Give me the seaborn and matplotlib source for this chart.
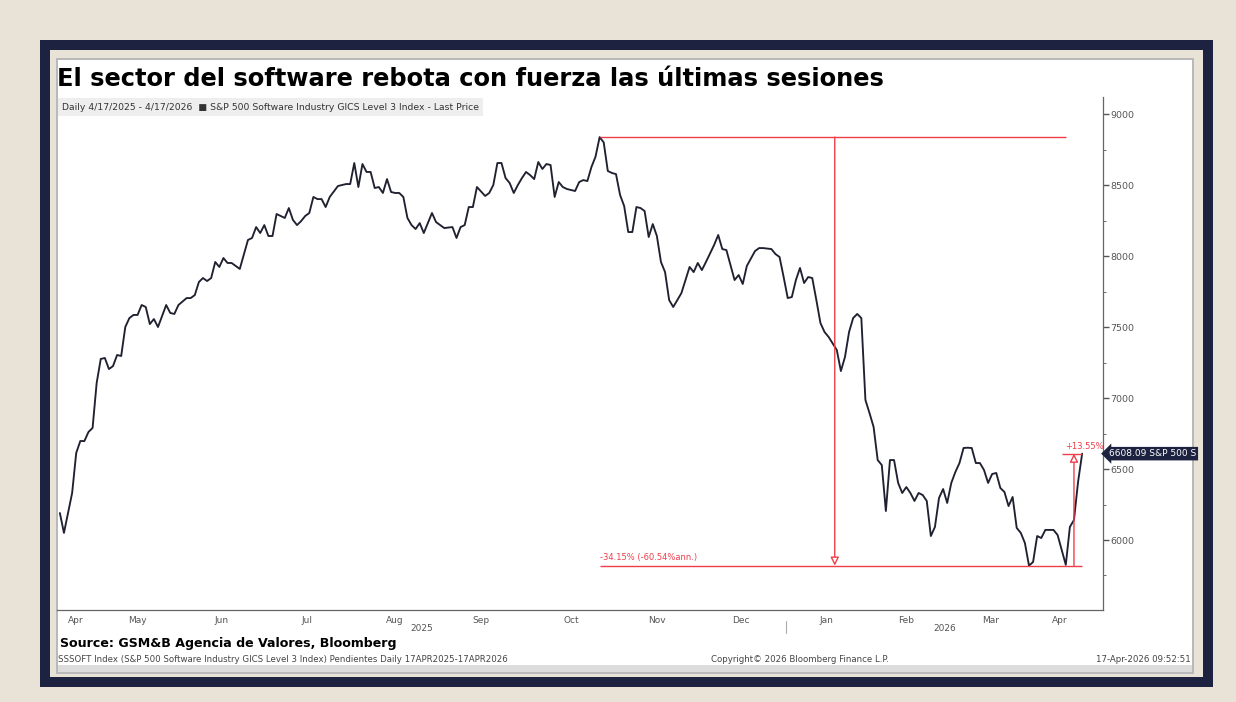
import numpy as np
import pandas as pd
import matplotlib
matplotlib.use("Agg")
import matplotlib.pyplot as plt
from matplotlib.patches import Rectangle
import seaborn as sns

# S&P 500 Software Industry GICS Level 3 index, daily last price
# session = trading-day number counted from 17-Apr-2025
session = [0, 1, 3, 4, 5, 6, 7, 8, 9, 10, 11, 12, 13, 14, 15, 16, 17, 18, 19, 20,
           21, 22, 23, 24, 26, 27, 28, 29, 31, 32, 33, 34, 35, 36, 37, 38, 39, 40, 41, 42,
           44, 46, 47, 48, 49, 50, 51, 52, 53, 54, 55, 56, 57, 58, 59, 60, 61, 62, 63, 64,
           65, 66, 68, 69, 70, 71, 72, 73, 74, 75, 76, 77, 78, 79, 80, 81, 82, 83, 84, 85,
           86, 87, 88, 89, 91, 92, 93, 94, 96, 97, 98, 99, 100, 101, 102, 104, 105, 106, 107, 108,
           109, 110, 111, 112, 113, 114, 115, 116, 117, 118, 119, 120, 121, 122, 123, 124, 126, 127, 128, 129,
           130, 131, 132, 133, 134, 135, 136, 137, 138, 139, 140, 141, 142, 143, 144, 145, 146, 147, 148, 149,
           150, 152, 153, 154, 155, 156, 157, 158, 160, 161, 162, 163, 164, 165, 166, 167, 168, 170, 171, 172,
           174, 175, 176, 177, 178, 179, 180, 181, 182, 183, 184, 185, 186, 187, 188, 190, 191, 192, 193, 194,
           195, 196, 197, 198, 199, 200, 201, 202, 203, 204, 205, 206, 207, 208, 209, 210, 211, 212, 213, 214,
           215, 216, 217, 218, 219, 220, 221, 222, 223, 224, 225, 226, 227, 228, 229, 230, 231, 232, 233, 234,
           235, 236, 237, 238, 239, 240, 241, 243, 244, 246, 247, 248, 249, 250]
price = [6190, 6050, 6331, 6613, 6697, 6697, 6761, 6789, 7106, 7275, 7282, 7204, 7225, 7303, 7296, 7500, 7563, 7585, 7585, 7655,
         7641, 7521, 7556, 7500, 7655, 7599, 7592, 7655, 7704, 7704, 7725, 7817, 7845, 7824, 7845, 7958, 7923, 7986, 7951, 7951,
         7909, 8113, 8127, 8204, 8162, 8218, 8141, 8141, 8296, 8282, 8268, 8338, 8254, 8218, 8246, 8282, 8303, 8416, 8401, 8401,
         8345, 8416, 8493, 8500, 8507, 8507, 8655, 8486, 8648, 8592, 8592, 8479, 8486, 8444, 8542, 8451, 8444, 8444, 8416, 8268,
         8218, 8190, 8232, 8162, 8303, 8239, 8218, 8197, 8204, 8127, 8204, 8218, 8345, 8345, 8486, 8423, 8444, 8500, 8655, 8655,
         8549, 8514, 8444, 8500, 8549, 8592, 8570, 8542, 8662, 8613, 8648, 8641, 8416, 8521, 8486, 8472, 8458, 8521, 8535, 8528,
         8627, 8700, 8837.5, 8800, 8599, 8585, 8577, 8430, 8352, 8169, 8169, 8345, 8338, 8317, 8134, 8225, 8141, 7958, 7887, 7690,
         7641, 7739, 7831, 7923, 7887, 7951, 7901, 7958, 8078, 8148, 8049, 8042, 7937, 7831, 7866, 7803, 7930, 8035, 8056, 8056,
         8049, 8014, 7993, 7852, 7704, 7711, 7831, 7916, 7810, 7852, 7845, 7690, 7528, 7465, 7430, 7338, 7190, 7289, 7465, 7563,
         7592, 7563, 6986, 6894, 6796, 6563, 6528, 6204, 6563, 6563, 6402, 6331, 6373, 6331, 6275, 6331, 6317, 6275, 6028, 6092,
         6296, 6359, 6261, 6402, 6479, 6542, 6648, 6650, 6648, 6542, 6542, 6493, 6402, 6465, 6472, 6366, 6338, 6239, 6303, 6085,
         6050, 5979, 5819.5, 5845, 6028, 6014, 6071, 6071, 6035, 5825, 6092, 6141, 6409, 6608.09]

start_date = "2025-04-17"
month_starts = ["2025-05-01", "2025-06-01", "2025-07-01", "2025-08-01", "2025-09-01", "2025-10-01",
                "2025-11-01", "2025-12-01", "2026-01-01", "2026-02-01", "2026-03-01", "2026-04-01"]
month_labels = ["Apr", "May", "Jun", "Jul", "Aug", "Sep", "Oct", "Nov", "Dec", "Jan", "Feb", "Mar", "Apr"]
holidays = ["2025-04-18", "2025-05-26", "2025-06-19", "2025-07-04", "2025-09-01", "2025-11-27",
            "2025-12-25", "2026-01-01", "2026-01-19", "2026-02-16", "2026-04-03"]
last_session = 250
y_ticks = [6000, 6500, 7000, 7500, 8000, 8500, 9000]

NAVY = "#1d2240"
BEIGE = "#e9e2d6"
RED = "#ef3e4a"
LINE = "#1f2130"
GREY = "#555555"

sns.set_style("white")
plt.rcParams["font.family"] = ["DejaVu Sans"]

W, H = 1236, 702
fig = plt.figure(figsize=(W / 100, H / 100), dpi=100, facecolor=BEIGE)


def fr(x0, y0, x1, y1, **kw):
    # background rectangle in pixel coordinates (top-left origin)
    fig.patches.append(Rectangle((x0 / W, 1 - y1 / H), (x1 - x0) / W, (y1 - y0) / H,
                                 transform=fig.transFigure, zorder=-10, **kw))


fr(40, 40, 1213, 687, facecolor=NAVY, edgecolor="none")
fr(50, 50, 1203, 677, facecolor=BEIGE, edgecolor="none")
fr(56, 58, 1194, 674, facecolor="#b9b9b9", edgecolor="none")
fr(58, 60, 1192, 672, facecolor="white", edgecolor="none")
fr(58, 665, 1192, 672, facecolor="#dcdcdc", edgecolor="none")

ax = fig.add_axes([57 / W, 1 - 610 / H, (1103 - 57) / W, (610 - 97) / H])
ax.set_facecolor("none")
ax.set_zorder(2)

df = pd.DataFrame({"session": session, "price": price})
sns.lineplot(data=df, x="session", y="price", ax=ax, color=LINE, linewidth=1.35)

ax.set_xlim(-0.7, 255.1)
ax.set_ylim(5507, 9120)

# month boundaries on the trading-day axis
bounds = np.busday_count(start_date, month_starts, holidays=holidays) - 0.5
edges = np.concatenate([[-0.5], bounds, [last_session + 0.5]])
centers = (edges[:-1] + edges[1:]) / 2
ax.set_xticks(centers)
ax.set_xticklabels(month_labels)
ax.set_xticks(bounds, minor=True)
ax.tick_params(axis="x", which="major", length=0, labelsize=6.5, colors=GREY, pad=4)
ax.tick_params(axis="x", which="minor", length=3, direction="inout", color=GREY)

jan = bounds[8]
xl = ax.get_xlim()
for yr, xc in [("2025", (xl[0] + jan) / 2), ("2026", (jan + xl[1]) / 2)]:
    ax.text(xc, -0.028, yr, transform=ax.get_xaxis_transform(), ha="center", va="top",
            fontsize=6.5, color=GREY)
ax.plot([jan, jan], [-0.022, -0.045], transform=ax.get_xaxis_transform(), color="#aaaaaa",
        lw=0.8, clip_on=False)

ax.yaxis.tick_right()
ax.set_yticks(y_ticks)
ax.set_yticklabels([str(v) for v in y_ticks])
ax.set_yticks(np.arange(5750, 9000, 500), minor=True)
ax.tick_params(axis="y", which="major", length=4, width=1, colors=GREY, labelsize=6.8, pad=1)
ax.tick_params(axis="y", which="minor", length=2, color=GREY)
ax.set_xlabel("")
ax.set_ylabel("")

for s in ["top", "left"]:
    ax.spines[s].set_visible(False)
for s in ["right", "bottom"]:
    ax.spines[s].set_color("#666666")
    ax.spines[s].set_linewidth(0.9)

# drawdown / rebound annotations
peak = max(price)
trough = min(price)
i_peak = session[price.index(peak)]
last = price[-1]
ax.hlines(peak, i_peak, 246, color=RED, lw=1)
ax.hlines(trough, i_peak, 250, color=RED, lw=1)
mid = (i_peak + 246) / 2 + 0.5
ax.annotate("", xy=(mid, trough), xytext=(mid, peak),
            arrowprops=dict(arrowstyle="-|>,head_length=0.5,head_width=0.25", color=RED,
                            fc="white", lw=1, shrinkA=0, shrinkB=0))
ax.text(i_peak, trough + 25, "-34.15% (-60.54%ann.)", color=RED, fontsize=6, va="bottom", ha="left")
ax.annotate("", xy=(248, last), xytext=(248, trough),
            arrowprops=dict(arrowstyle="-|>,head_length=0.5,head_width=0.25", color=RED,
                            fc="white", lw=1, shrinkA=0, shrinkB=0))
ax.hlines(last, 245, 250, color=RED, lw=1)
ax.text(250.5, last + 20, "+13.55%", color=RED, fontsize=6, va="bottom", ha="center")

# last price tag
ax.annotate("6608.09 S&P 500 S", xy=(1.0, last), xycoords=("axes fraction", "data"),
            xytext=(4, 0), textcoords="offset points", va="center", ha="left",
            fontsize=6.5, color="white",
            bbox=dict(boxstyle="larrow,pad=0.25", fc=NAVY, ec="none"))

# titles and footer
fig.text(57 / W, 1 - 86 / H, "El sector del software rebota con fuerza las últimas sesiones",
         fontsize=17.4, fontweight="bold", color="black", va="baseline", ha="left")
fig.text(62 / W, 1 - 107 / H,
         "Daily 4/17/2025 - 4/17/2026  \u25A0 S&P 500 Software Industry GICS Level 3 Index - Last Price",
         fontsize=6.7, color="#333333", va="center", ha="left",
         bbox=dict(boxstyle="square,pad=0.45", fc="#eeeeee", ec="none"))
fig.text(60 / W, 1 - 643 / H, "Source: GSM&B Agencia de Valores, Bloomberg",
         fontsize=9.1, fontweight="bold", color="black", va="center", ha="left")
fig.text(58 / W, 1 - 659 / H,
         "SSSOFT Index (S&P 500 Software Industry GICS Level 3 Index) Pendientes Daily 17APR2025-17APR2026",
         fontsize=6.2, color="#444444", va="center", ha="left")
fig.text(800 / W, 1 - 659 / H, "Copyright\u00a9 2026 Bloomberg Finance L.P.",
         fontsize=6.2, color="#444444", va="center", ha="center")
fig.text(1191 / W, 1 - 659 / H, "17-Apr-2026 09:52:51",
         fontsize=6.2, color="#444444", va="center", ha="right")

fig.savefig("out.png", dpi=100, facecolor=BEIGE)
